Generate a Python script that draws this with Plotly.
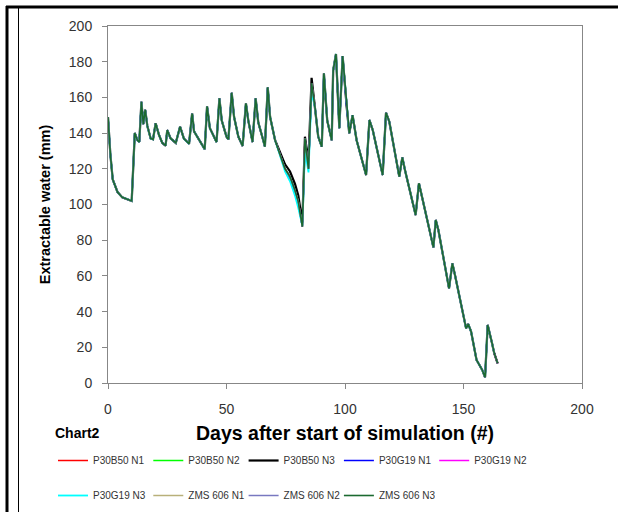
import plotly.graph_objects as go

# ---- data ----
days = [0, 1, 2, 4, 6, 8, 10, 11.3, 12.4, 13.2, 14.1, 14.9, 15.7, 16.6, 18, 19,
        20.1, 21.5, 22.9, 24.3, 25, 26.4, 28.6, 30.4, 32, 34.2, 35.5, 36.3, 38.4,
        40.8, 41.8, 43, 45.8, 47, 48, 50, 50.8, 52.2, 53.2, 55, 56.8, 58.2, 59.2,
        61, 62.3, 63.4, 65.5, 66.2, 67.4, 68.4, 70.5, 72.6, 74.7, 76.8, 78.9, 80.3,
        82, 83.1, 84.6, 85.9, 87.3, 88.7, 90.2, 91.1, 92.5, 94.4, 95, 96.2, 97.6,
        99, 100.7, 101.8, 103.2, 104.9, 108.9, 110.3, 111.7, 115.9, 117.3, 118.7,
        122.9, 124.2, 125.3, 129.8, 131.2, 132.3, 137.3, 138.3, 139.4, 143.9,
        145.3, 146.4, 151.1, 152, 153.2, 155.5, 157.9, 159.1, 160.2, 161.9, 163,
        164.4]

base_water = [149, 128, 114, 107, 104, 103, 102, 140, 136, 135, 157.5, 145, 153, 144,
              137, 136.5, 145.5, 139, 134.5, 133, 141.7, 137, 134.5, 143.6, 137, 134,
              151, 141, 136, 131, 155, 142.7, 135, 159.5, 147, 138, 136.5, 162.6, 149,
              138, 132.8, 156.7, 147, 135, 159.5, 146, 136, 132.4, 165.6, 149, 136,
              127.7, 120, 115.6, 108, 101.6, 87.6, 137, 120, 168, 154.8, 138, 132.4,
              173.5, 147, 136, 175, 184.3, 142.7, 183.2, 154.8, 139.9, 150, 136, 116.5,
              147.3, 141.7, 116.5, 151.4, 146.4, 115.6, 126.4, 119.3, 94.1, 111.9,
              105.3, 76, 91.3, 85.7, 53, 67, 60.5, 30.6, 33, 28.8, 12.9, 7.3, 3.2,
              32.5, 23.1, 16.6, 11]

# explicit readings where a series departs from the common curve
p30b50_n3_points = {72.6: 129, 74.7: 122.5, 76.8: 118.5, 78.9: 111.5, 80.3: 105,
                    82: 90, 83.1: 138, 84.6: 124, 85.9: 171}
p30g19_n3_points = {74.7: 118.5, 76.8: 113, 78.9: 105, 80.3: 98, 82: 88,
                    83.1: 130, 84.6: 118, 85.9: 163, 164.4: None}
p30g19_n1_points = {76.8: 114.5, 78.9: 106.5, 80.3: 100, 83.1: 133, 85.9: 165}

series_names = ["P30B50 N1", "P30B50 N2", "P30B50 N3", "P30G19 N1", "P30G19 N2",
                "P30G19 N3", "ZMS 606 N1", "ZMS 606 N2", "ZMS 606 N3"]
series_points = [{}, {}, p30b50_n3_points, p30g19_n1_points, {},
                 p30g19_n3_points, {}, {}, {}]
series_colors = ["#ff0000", "#00ff00", "#000000", "#0000ff", "#ff00ff",
                 "#00ffff", "#b8b07a", "#7878c0", "#1b6a30"]
series_widths = [1.5, 1.5, 2.2, 1.5, 1.5, 1.8, 1.5, 1.5, 1.6]

x_ticks = [0, 50, 100, 150, 200]
y_ticks = [0, 20, 40, 60, 80, 100, 120, 140, 160, 180, 200]

# ---- figure ----
W, H = 618, 512
L, R, T, B = 108, 36, 26, 129
PW, PH = W - L - R, H - T - B


def px(xp):
    return (xp - L) / PW


def py(yp):
    return (H - B - yp) / PH


fig = go.Figure()
for i, (name, pts, col, w) in enumerate(zip(series_names, series_points,
                                             series_colors, series_widths)):
    vals = [pts[d] if d in pts else v for d, v in zip(days, base_water)]
    fig.add_trace(go.Scatter(
        x=days, y=vals, mode="lines", name=name,
        line=dict(color=col, width=w),
        legend="legend" if i < 5 else "legend2",
        connectgaps=False,
    ))

FONT = "Liberation Sans, Arial, sans-serif"
axis_font = dict(family=FONT, size=14, color="#333333")
leg_font = dict(family=FONT, size=10, color="#333333")

fig.update_layout(
    width=W, height=H,
    margin=dict(l=L, r=R, t=T, b=B, pad=0, autoexpand=False),
    paper_bgcolor="white", plot_bgcolor="white",
    showlegend=True,
    xaxis=dict(range=[0, 200], tickvals=x_ticks, ticks="outside", ticklen=5,
               tickcolor="#878787", showline=True, linecolor="#878787", linewidth=1,
               mirror=True, showgrid=False, zeroline=False, tickfont=axis_font,
               ticklabelstandoff=8, automargin=False,
               title=dict(text="<b>Days after start of simulation (#)</b>",
                          font=dict(family=FONT, size=19.5, color="#000000"),
                          standoff=10)),
    yaxis=dict(range=[0, 200], tickvals=y_ticks, ticks="outside", ticklen=5,
               tickcolor="#878787", showline=True, linecolor="#878787", linewidth=1,
               mirror=True, showgrid=False, zeroline=False, tickfont=axis_font,
               ticklabelstandoff=7, automargin=False,
               title=dict(text="<b>Extractable water (mm)</b>",
                          font=dict(family=FONT, size=14.5, color="#000000"),
                          standoff=14)),
    legend=dict(orientation="h", x=px(53), y=py(446), xanchor="left", yanchor="top",
                entrywidth=50.3, entrywidthmode="pixels", tracegroupgap=0,
                font=leg_font, bgcolor="rgba(0,0,0,0)", itemwidth=30),
    legend2=dict(orientation="h", x=px(53), y=py(481), xanchor="left", yanchor="top",
                 entrywidth=50.3, entrywidthmode="pixels", tracegroupgap=0,
                 font=leg_font, bgcolor="rgba(0,0,0,0)", itemwidth=30),
    annotations=[dict(text="<b>Chart2</b>", xref="paper", yref="paper",
                      x=px(53), y=py(433), xanchor="left", yanchor="middle",
                      showarrow=False,
                      font=dict(family=FONT, size=14, color="#000000"))],
    shapes=[
        dict(type="line", xref="paper", yref="paper", x0=px(6), x1=px(618),
             y0=py(7), y1=py(7), line=dict(color="black", width=3)),
        dict(type="line", xref="paper", yref="paper", x0=px(7), x1=px(7),
             y0=py(6), y1=py(512), line=dict(color="black", width=3)),
        dict(type="line", xref="paper", yref="paper", x0=px(18.5), x1=px(18.5),
             y0=py(8), y1=py(512), line=dict(color="black", width=1)),
    ],
)

fig.write_html("out.html",
               config={"displayModeBar": False},
               post_script="document.body.style.margin='0';"
                           "document.body.style.overflow='hidden';")
